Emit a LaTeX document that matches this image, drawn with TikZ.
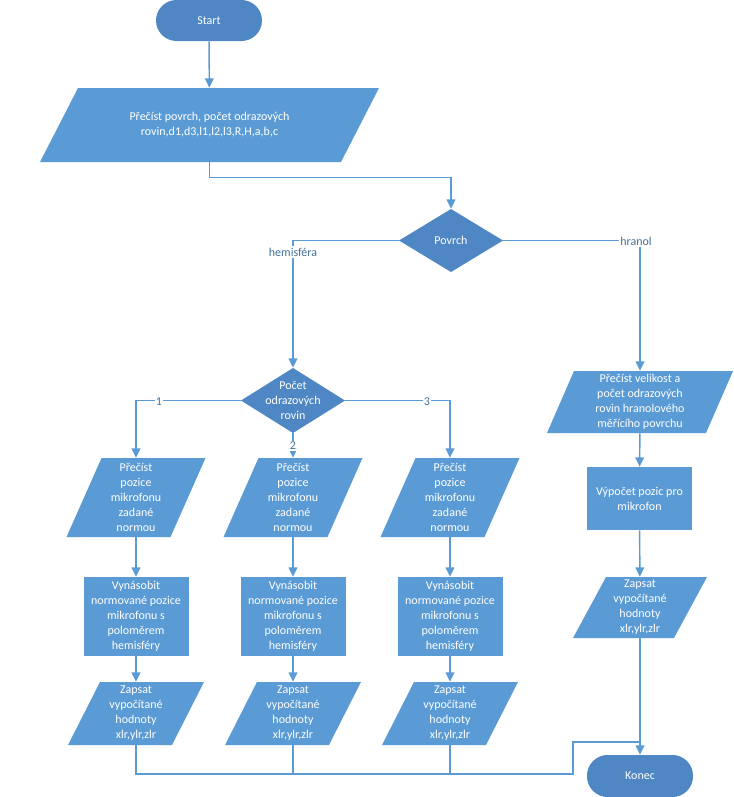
\documentclass[tikz,border=0pt]{standalone}
\usepackage{fontspec}
\setmainfont{Carlito}
\usetikzlibrary{arrows.meta,calc}
\def\PX{0.75pt}
\definecolor{boxblue}{HTML}{5B9BD5}
\definecolor{darkblue}{HTML}{4E87C4}
\definecolor{lineblue}{HTML}{5B9BD5}
\definecolor{lblcol}{HTML}{41719C}
\tikzset{
  base/.style={inner sep=0pt, align=center, text=white, font=\fontsize{9}{11.25}\selectfont},
  sized/.style 2 args={minimum width=#1*\PX, minimum height=#2*\PX},
  procbox/.style={base, fill=boxblue},
  termbox/.style={base, fill=darkblue, rounded corners=15.4pt},
  iobox/.style={base, path picture={\fill[boxblue]
      ($(path picture bounding box.north west)+(#1*\PX,0pt)$) --
      (path picture bounding box.north east) --
      ($(path picture bounding box.south east)-(#1*\PX,0pt)$) --
      (path picture bounding box.south west) -- cycle;}},
  decbox/.style={base, path picture={\fill[darkblue]
      (path picture bounding box.north) -- (path picture bounding box.east) --
      (path picture bounding box.south) -- (path picture bounding box.west) -- cycle;}},
  conn/.style={draw=lineblue, line width=1.1pt},
  arr/.style={conn, -{Triangle[width=6.5pt,length=7pt]}},
  lbl/.style={inner sep=1pt, fill=white, text=lblcol, font=\fontsize{9}{11.25}\selectfont},
}
\begin{document}
\begin{tikzpicture}[x=0.75pt, y=-0.75pt]
\useasboundingbox (0,0) rectangle (734,797);

% main trunk
\node[termbox, sized={106}{41}] (start) at (209,20.5) {Start};
\node[iobox=38, sized={339}{74}] (read1) at (209.5,125)
  {Přečíst povrch, počet odrazových\\rovin,d1,d3,l1,l2,l3,R,H,a,b,c};
\node[decbox, sized={104}{63}] (povrch) at (451,240.5) {Povrch};
\node[decbox, sized={104}{65}] (pocet) at (293,400.5) {Počet\\odrazových\\rovin};

% three hemisphere columns
\foreach \c/\x in {1/136,2/293,3/450}{
  \node[iobox=35, sized={139}{79}] (p\c) at (\x,497.5)
    {Přečíst\\pozice\\mikrofonu\\zadané\\normou};
  \node[procbox, sized={105}{79}] (m\c) at (\x,616.5)
    {Vynásobit\\normované pozice\\mikrofonu s\\poloměrem\\hemisféry};
  \node[iobox=32, sized={136}{63}] (z\c) at (\x,713.5)
    {Zapsat\\vypočítané\\hodnoty\\xlr,ylr,zlr};
  \draw[arr] (p\c) -- (m\c);
  \draw[arr] (m\c) -- (z\c);
}

% right column
\node[iobox=27, sized={186}{62}] (rp) at (640,402)
  {Přečíst velikost a\\počet odrazových\\rovin hranolového\\měřícího povrchu};
\node[procbox, sized={105}{63}] (rv) at (639.5,498.5) {Výpočet pozic pro\\mikrofon};
\node[iobox=33, sized={134}{61}] (rz) at (640,607.5)
  {Zapsat\\vypočítané\\hodnoty\\xlr,ylr,zlr};
\node[termbox, sized={106}{42}] (konec) at (640,776) {Konec};

\coordinate (jA) at (573,774);
\coordinate (jC) at (640,742);

% connectors
\draw[arr] (start) -- (read1);
\draw[arr] (read1.south) -- ++(0,15) -| (povrch.north);
\draw[arr] (povrch.west) -| (pocet.north);
\draw[arr] (povrch.east) -| (rp.north);
\draw[arr] (pocet.west) -| (p1.north);
\draw[arr] (pocet.east) -| (p3.north);
\draw[arr] (pocet.south) -- (p2.north);
\draw[arr] (rp) -- (rv);
\draw[arr] (rv) -- (rz);
\draw[arr] (rz) -- (konec);
\draw[conn] (z1.south) |- (jA) |- (jC);
\draw[conn] (z2.south) -- (z2.south |- jA);
\draw[conn] (z3.south) -- (z3.south |- jA);

% labels
\node[lbl] (lhem) at (293,252) {hemisféra};
\node[lbl] (lhra) at (636,241) {hranol};
\node[lbl] (l1) at (159,402) {1};
\node[lbl] (l2) at (293,446) {2};
\node[lbl] (l3) at (427,402) {3};
\end{tikzpicture}
\end{document}
